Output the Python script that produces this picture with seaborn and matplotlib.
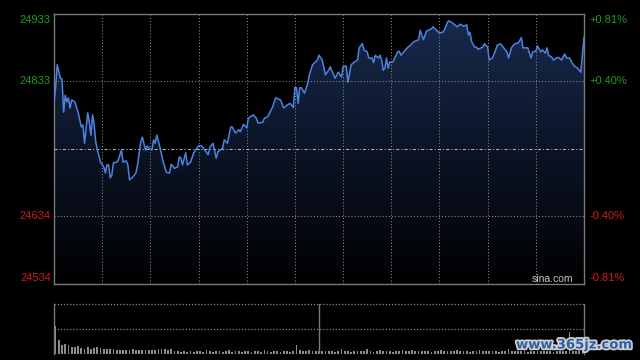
import numpy as np
import pandas as pd
import matplotlib
matplotlib.use("Agg")
import matplotlib.pyplot as plt
import matplotlib.patheffects as pe
from matplotlib.colors import LinearSegmentedColormap
from matplotlib.transforms import offset_copy
import seaborn as sns

# intraday index, minutes after the open (330 trading minutes)
minutes = [0, 1, 2, 4, 5, 6, 7, 8, 9, 10, 11, 13, 15, 17, 18, 19, 21, 22, 23, 24,
           25, 26, 27, 29, 31, 32, 33, 34, 35, 36, 37, 39, 40, 42, 43, 45, 46, 47, 49, 51,
           52, 54, 55, 57, 58, 59, 61, 62, 63, 64, 66, 68, 70, 72, 73, 75, 77, 78, 79, 80,
           82, 83,
           85, 87, 90, 92, 93, 96, 97, 99, 101, 102, 105, 106, 108, 110, 111, 113, 115, 116, 118, 120,
           121, 124, 126, 127, 130, 131, 133, 136, 138, 141, 143, 145, 147, 149, 150, 151, 152, 153, 154, 156,
           158, 159, 161, 164, 165, 167,
           169, 171, 172, 175, 177, 179, 180, 182, 183, 185, 187, 189, 190, 192, 193, 195, 196, 198, 199, 200,
           202, 203, 204, 205, 206, 207, 208, 209, 211, 214, 215, 216, 217, 220, 222, 224, 227, 228, 229, 230,
           232, 235, 236, 238, 240, 242, 243, 245, 246, 248,
           251, 253, 255, 257, 258, 259, 260, 262, 263, 264, 267, 268, 270, 271, 273, 275, 276, 278, 280, 282,
           283, 285, 287, 289, 291, 292, 294, 295, 297, 298, 300, 301, 303, 304, 306, 307, 308, 310, 311, 313,
           314, 316, 318, 319, 321, 323, 324, 326, 328, 329, 330]
prices = [24803, 24824, 24858, 24838, 24837, 24788, 24813, 24803, 24809, 24794,
          24806, 24803, 24788, 24766, 24769, 24742, 24787, 24773, 24754, 24784,
          24769, 24744, 24732, 24714, 24707, 24698, 24710, 24710, 24691, 24695,
          24713, 24714, 24717, 24732, 24714, 24716, 24710, 24688, 24692, 24698,
          24710, 24744, 24751, 24732, 24738, 24735, 24732, 24747, 24742, 24754,
          24736, 24714, 24699, 24698, 24711, 24705, 24707, 24722, 24720, 24710,
          24728, 24710,
          24714, 24728, 24738, 24738, 24735, 24725, 24736, 24742, 24720, 24729,
          24735, 24747, 24742, 24766, 24766, 24757, 24762, 24759, 24770, 24765,
          24779, 24784, 24779, 24772, 24773, 24779, 24781, 24795, 24809, 24806,
          24794, 24798, 24801, 24795, 24825, 24824, 24801, 24824, 24824, 24816,
          24831, 24843, 24858, 24865, 24872, 24865,
          24843, 24850, 24855, 24838, 24847, 24840, 24855, 24856, 24832, 24858,
          24862, 24865, 24883, 24889, 24880, 24877, 24868, 24868, 24861, 24872,
          24868, 24872, 24865, 24850, 24853, 24868, 24853, 24862, 24862, 24877,
          24878, 24872, 24875, 24883, 24887, 24892, 24895, 24909, 24902, 24895,
          24908, 24911, 24914, 24909, 24905, 24906, 24909, 24921, 24923, 24920,
          24914, 24918, 24915, 24917, 24902, 24906, 24892, 24884, 24884, 24881,
          24884, 24889, 24884, 24865, 24868, 24880, 24887, 24889, 24883, 24877,
          24868, 24884, 24889, 24890, 24898, 24883, 24883, 24883, 24868, 24877,
          24878, 24886, 24877, 24880, 24875, 24883, 24872, 24869, 24865, 24868,
          24869, 24865, 24874, 24868, 24868, 24859, 24856, 24853, 24847, 24872,
          24899]

# volume per two-minute bucket (relative units), at bucket midpoints
vol_minutes = list(range(1, 332, 2))
volumes = [28, 14, 9, 10, 9, 7, 7, 8, 6, 5,
           7, 5, 6, 7, 6, 5, 5, 5, 5, 4,
           4, 4, 4, 4, 5, 4, 4, 4, 4, 4,
           4, 4, 5, 5, 5, 4, 5, 3, 3, 2,
           3, 2, 3, 2, 3, 3, 2, 4, 3, 2,
           3, 3, 2, 3, 4, 2, 3, 3, 2, 3,
           3, 2, 3, 3, 2, 4, 3, 2, 3, 3,
           2, 3, 3, 2, 3,
           9,
           4, 3, 3, 4, 3, 3, 3, 3, 3, 3,
           3, 2, 3, 5, 3, 3, 2, 3, 3, 3,
           3, 5, 3, 2, 3, 4, 3, 3, 3, 2,
           3, 3, 4, 3, 3, 4, 3, 3, 3, 3,
           3, 2, 3, 3, 4, 3, 3, 3, 3, 4,
           3, 3, 3, 2, 3, 3, 4, 3, 3, 3,
           3, 3, 2, 3, 3, 5, 3, 3, 3, 3,
           3, 2, 3, 3, 3, 3, 3, 3, 3, 2,
           3, 3, 3, 3, 22, 3, 3, 3, 3, 6]

prev_close = 24733.5
price_low, price_high = 24534, 24933
left_labels = ["24933", "24833", "", "24634", "24534"]
right_labels = ["+0.81%", "+0.40%", "", "-0.40%", "-0.81%"]
label_colors = ["#1d9e1d", "#1d9e1d", "none", "#d41a1a", "#d41a1a"]

df = pd.DataFrame({"minute": minutes, "price": prices})

sns.set_theme(style="dark", rc={"axes.facecolor": "black", "figure.facecolor": "black"})
plt.rcParams["font.family"] = ["Liberation Sans", "DejaVu Sans"]

fig = plt.figure(figsize=(6.4, 3.6), dpi=100, facecolor="black")
ax = fig.add_axes([54 / 640, 76 / 360, 530 / 640, 270 / 360])
axv = fig.add_axes([54 / 640, 6 / 360, 530 / 640, 50 / 360])

# gradient fill under the price line
poly = ax.fill_between(df["minute"], df["price"], price_low, color="none", linewidth=0)
grad = np.linspace(1, 0, 256).reshape(-1, 1)
cmap = LinearSegmentedColormap.from_list("fill", ["#000000", "#182a4d"])
im = ax.imshow(grad, cmap=cmap, aspect="auto", origin="upper",
               extent=[0, 330, price_low, price_high], zorder=1)
im.set_clip_path(poly.get_paths()[0], transform=ax.transData)

sns.lineplot(data=df, x="minute", y="price", ax=ax, color="#4a84e0", linewidth=1.1, zorder=4)

ax.set_xlim(0, 330)
ax.set_ylim(price_low, price_high)
levels = np.linspace(price_low, price_high, 5)[::-1]

grid_kw = dict(color="#8a8a8a", linewidth=0.75, linestyle=(0, (1, 2)), zorder=2)
for m in range(30, 330, 30):
    ax.axvline(m, **grid_kw)
ax.axhline(levels[1], **grid_kw)
ax.axhline(levels[3], **grid_kw)
ax.axhline(prev_close, color="#b4b4b4", linewidth=0.75, linestyle=(0, (3, 2, 1, 2)), zorder=3)

ax.set_xticks([])
ax.set_yticks([])
ax.set_xlabel("")
ax.set_ylabel("")
for s in ax.spines.values():
    s.set_visible(True)
    s.set_color("#7a7a7a")
    s.set_linewidth(1)

# axis labels on both sides
ytrans = ax.get_yaxis_transform()
for i, (lv, ll, rl, c) in enumerate(zip(levels, left_labels, right_labels, label_colors)):
    if not ll:
        continue
    dy = -6 if i == 0 else (6 if i == len(levels) - 1 else 0)
    tr = offset_copy(ytrans, fig=fig, y=dy, units="dots")
    ax.text(-0.006, lv, ll, transform=tr, ha="right", va="center", color=c, fontsize=8)
    ax.text(1.011, lv, rl, transform=tr, ha="left", va="center", color=c, fontsize=8)

ax.text(0.979, 0.019, "sina.com", transform=ax.transAxes, ha="right", va="center",
        color="#c8c8c8", fontsize=7.5, zorder=5)

# volume panel
sns.barplot(x=vol_minutes, y=volumes, ax=axv, native_scale=True, color="#8c8c8c",
            saturation=1, linewidth=0, width=0.55)
axv.set_xlim(0, 330)
axv.set_ylim(0, 50)
axv.set_xticks([])
axv.set_yticks([])
axv.set_xlabel("")
axv.set_ylabel("")
for name, s in axv.spines.items():
    s.set_color("#7a7a7a")
    s.set_linewidth(1)
    s.set_visible(name in ("left", "right"))
axv.axhline(50, color="#8a8a8a", linewidth=0.9, linestyle=(0, (1, 1.5)), clip_on=False)
axv.axhline(25, color="#8a8a8a", linewidth=0.9, linestyle=(0, (1, 1.5)))
axv.axvline(165, color="#7a7a7a", linewidth=1)

fig.text(516 / 640, 1 - 345 / 360, "www.365jz.com", ha="left", va="center",
         fontsize=9.5, fontweight="bold", family=["DejaVu Sans"], color="#2f5fa8",
         path_effects=[pe.withStroke(linewidth=2.5, foreground="#d0d0d0")])

fig.savefig("out.png", dpi=100, facecolor="black")
